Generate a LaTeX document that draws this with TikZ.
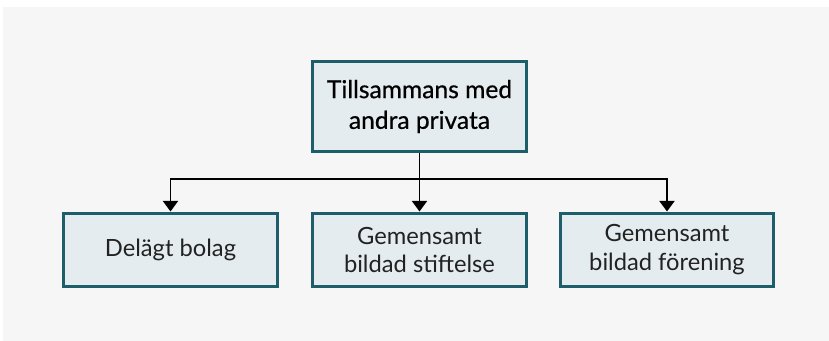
\documentclass[tikz,border=0pt]{standalone}
\usepackage{fontspec}
\setmainfont{Lato}
\newfontfamily\headfont[FakeBold=0.7]{Lato}
\usepackage{tikz}
\usetikzlibrary{arrows.meta, positioning}

\definecolor{bgcol}{HTML}{F6F6F6}
\definecolor{boxline}{HTML}{1E5D6A}
\definecolor{boxfill}{HTML}{E4ECEF}
\definecolor{txtcol}{HTML}{222222}

\tikzset{
    box/.style={draw=boxline, fill=boxfill, line width=1.7pt, rectangle, align=center,
        minimum width=4.28cm, minimum height=1.48cm, inner sep=2pt,
        text=txtcol, font=\fontsize{13.5}{16.5}\selectfont},
    topbox/.style={box, minimum height=1.80cm, text=black,
        font=\headfont\fontsize{14}{17.5}\selectfont},
    line/.style={line width=1.1pt, black},
    arrow/.style={line, -{Triangle[length=6pt, width=8.5pt]}}
}

\begin{document}
\begin{tikzpicture}[x=0.02cm, y=-0.02cm]
    \useasboundingbox (0,0) rectangle (829,341);
    \fill[bgcol] (3,7) rectangle (829,341);

    \node[topbox] (privata) at (419.5,106.5) {Tillsammans med\\andra privata};

    \node[box] (bolag)     at (170.5,250) {Delägt bolag};
    \node[box] (stiftelse) at (419.5,250) {Gemensamt\\bildad stiftelse};
    \node[box] (forening)  at (667,250)   {Gemensamt\\bildad förening};

    \coordinate (split) at (419.5,179);

    \draw[line]  (privata.south) -- (split);
    \draw[arrow] (split) -| (bolag.north);
    \draw[arrow] (split) -- (stiftelse.north);
    \draw[arrow] (split) -| (forening.north);
\end{tikzpicture}
\end{document}
